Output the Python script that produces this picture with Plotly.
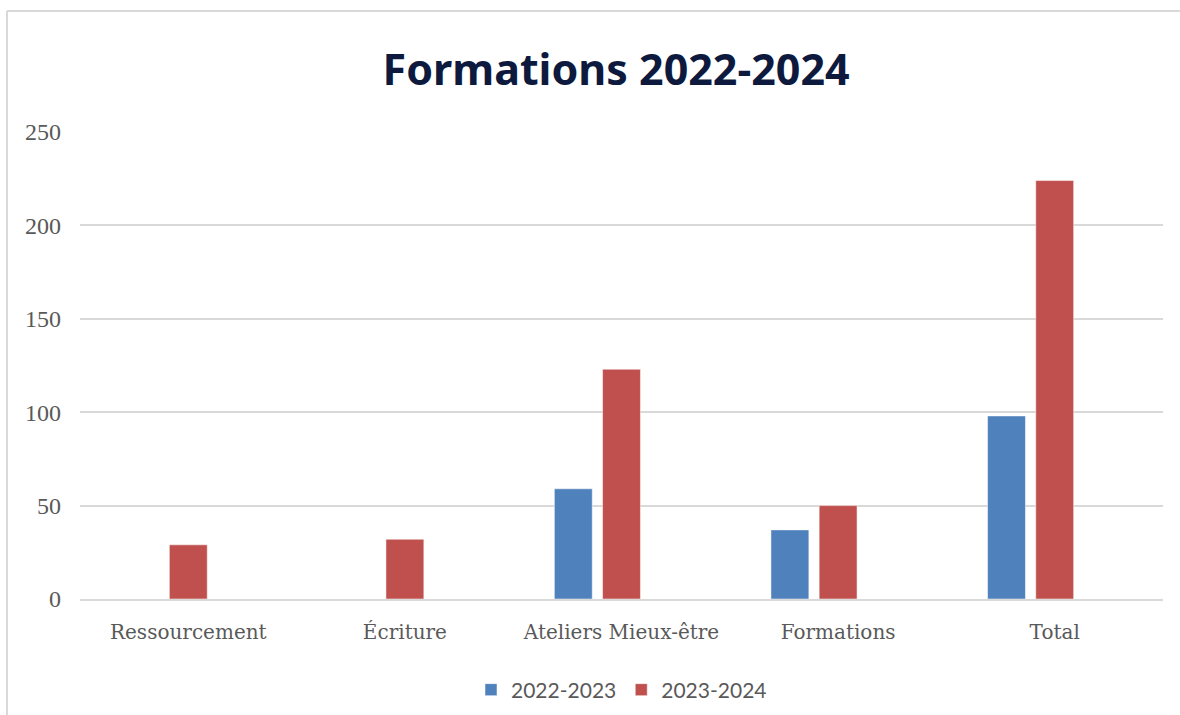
import plotly.graph_objects as go

categories = ["Ressourcement", "Écriture", "Ateliers Mieux-être", "Formations", "Total"]
series_names = ["2022-2023", "2023-2024"]
values_2022_2023 = [None, None, 59, 37, 98]
values_2023_2024 = [29, 32, 123, 50, 224]
y_ticks = [0, 50, 100, 150, 200, 250]

fig = go.Figure()
fig.add_trace(go.Bar(
    x=categories, y=values_2022_2023, name=series_names[0],
    marker=dict(color="#4f81bd", line=dict(color="rgba(255,255,255,0.5)", width=1)),
    width=0.175, offset=-0.31,
))
fig.add_trace(go.Bar(
    x=categories, y=values_2023_2024, name=series_names[1],
    marker=dict(color="#c0504d", line=dict(color="rgba(255,255,255,0.5)", width=1)),
    width=0.175, offset=-0.0875,
))

fig.update_layout(
    width=1180, height=715,
    barmode="overlay",
    paper_bgcolor="white", plot_bgcolor="white",
    margin=dict(l=80, r=17, t=132, b=116),
    title=dict(
        text="<b>Formations 2022-2024</b>",
        x=0.495, xref="paper", y=0.902, yref="container", yanchor="middle",
        font=dict(family="Noto Sans", size=43, color="#0d1a3d"),
    ),
    xaxis=dict(
        type="category", showgrid=False, showline=True, linecolor="#d9d9d9", linewidth=1.5,
        ticks="", tickfont=dict(family="DejaVu Serif", size=20, color="#595959"),
        ticklabelstandoff=14,
    ),
    yaxis=dict(
        range=[0, 250], tickvals=y_ticks, showgrid=True, gridcolor="#d9d9d9", gridwidth=1.5,
        zeroline=False, showline=False, ticks="",
        tickfont=dict(family="Liberation Serif", size=24, color="#595959"),
        ticklabelstandoff=18,
    ),
    legend=dict(
        orientation="h", x=0.5, xanchor="center", y=0.035, yref="container", yanchor="middle",
        font=dict(family="Lato", size=21, color="#595959"), itemwidth=30,
        traceorder="normal",
    ),
    showlegend=True,
)

# chart frame (left and top edges)
fig.add_shape(type="line", xref="paper", yref="paper", x0=-0.0674, x1=-0.0674, y0=-0.26, y1=1.259,
              line=dict(color="#d9d9d9", width=2))
fig.add_shape(type="line", xref="paper", yref="paper", x0=-0.0674, x1=1.02, y0=1.259, y1=1.259,
              line=dict(color="#d9d9d9", width=2))

fig.write_html("out.html", config={"displayModeBar": False},
               post_script="document.body.style.margin='0';document.body.style.padding='0';")
